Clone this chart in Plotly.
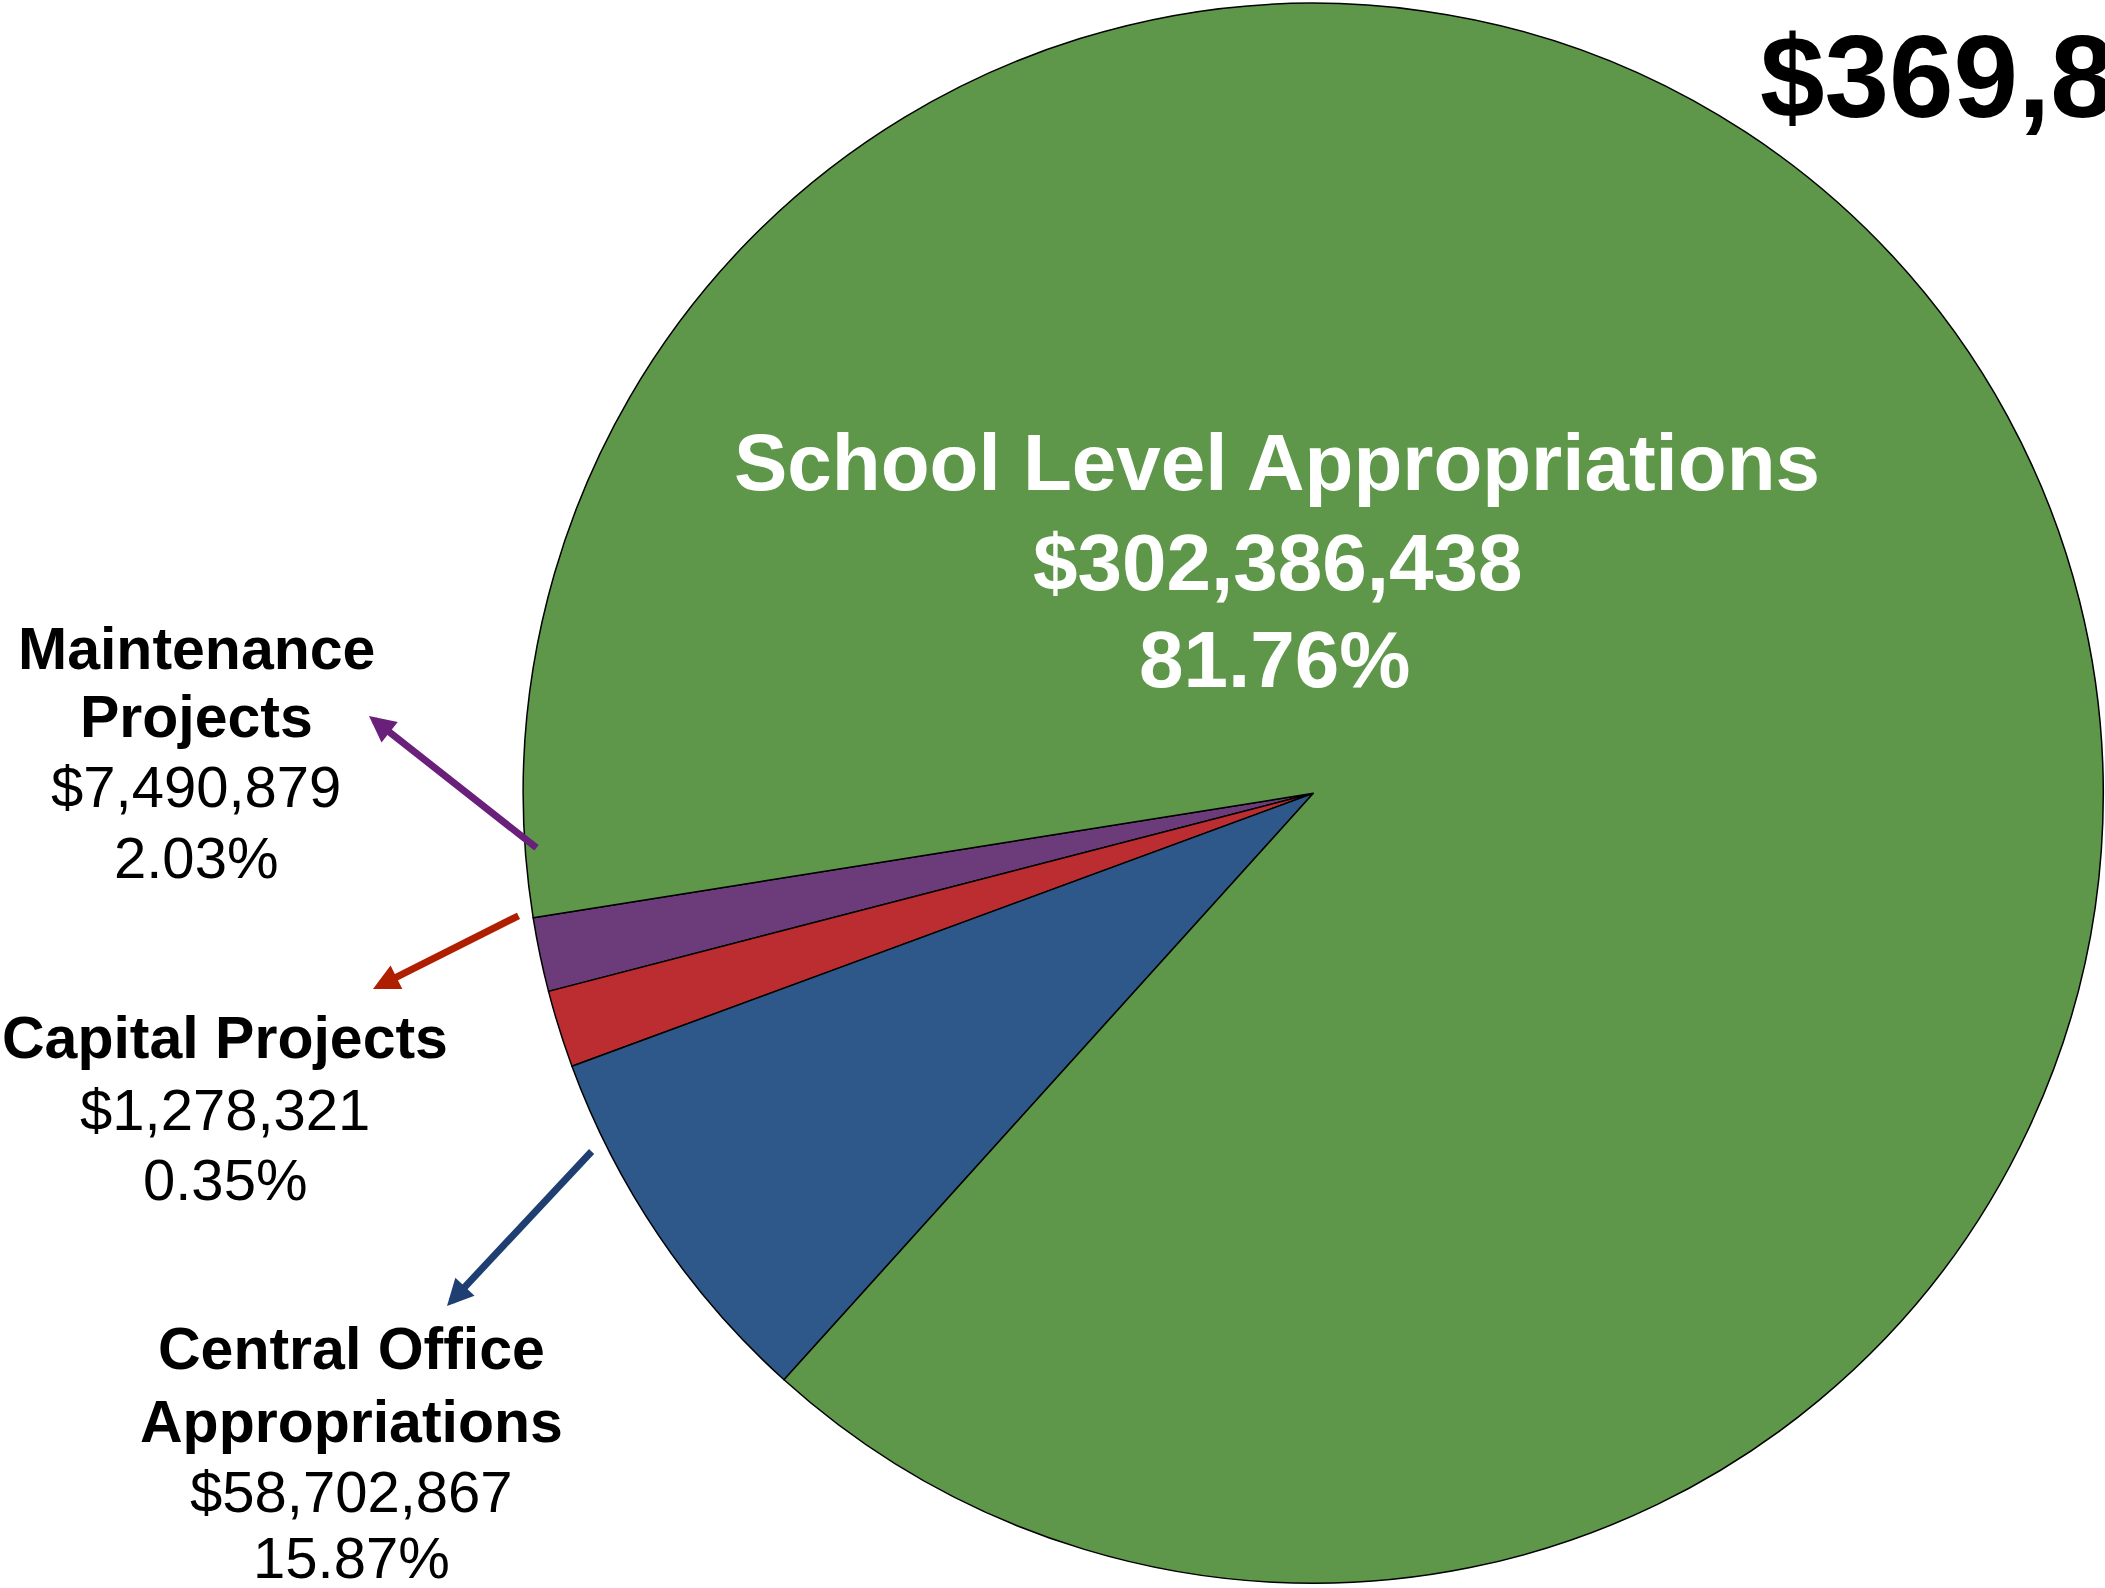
import plotly.graph_objects as go

# ---- data ----
categories = ["Maintenance Projects", "Capital Projects",
              "Central Office Appropriations", "School Level Appropriations"]
amounts = [7490879, 1278321, 58702867, 302386438]          # printed labels
percents = [2.03, 0.35, 15.87, 81.76]                        # printed labels
# slice sizes as actually drawn in the picture (share of the circle, %)
drawn_share = [1.514, 1.581, 7.700, 89.205]
slice_colors = ["#6C3C7A", "#BB2D30", "#2E588A", "#5E974A"]
arrow_colors = ["#6A1F7A", "#B01E00", "#1F3F72"]

W, H = 2105, 1588
total = sum(amounts)

fig = go.Figure()
fig.add_trace(go.Pie(
    labels=categories, values=drawn_share, sort=False,
    direction="counterclockwise", rotation=255.48,
    marker=dict(colors=slice_colors, line=dict(color="#000000", width=1.5)),
    textinfo="none", hoverinfo="label", showlegend=False,
    domain=dict(x=[0.2486, 0.9992], y=[0.00294, 0.99794]),
))

FONT = "Liberation Sans, Arial, Helvetica, sans-serif"
ann = []

def line(text, cx, baseline, size, bold, color="#000000", xanchor="center"):
    y_mid = baseline - 0.3465 * size
    ann.append(dict(
        text=f"<b>{text}</b>" if bold else text,
        x=cx / W, y=1 - y_mid / H, xref="paper", yref="paper",
        xanchor=xanchor, yanchor="middle", showarrow=False,
        font=dict(family=FONT, size=size, color=color)))

def money(v):
    return "${:,}".format(v)

# layout of label blocks (pixel positions)
blocks = [
    dict(name=["Maintenance", "Projects"], cx=196, base=[669, 737, 807, 878]),
    dict(name=["Capital Projects"], cx=225, base=[1058, 1130, 1200]),
    dict(name=["Central Office", "Appropriations"], cx=351, base=[1369, 1442, 1512, 1578]),
]
for i, b in enumerate(blocks):
    lines = b["name"]
    for j, t in enumerate(lines):
        line(t, b["cx"], b["base"][j], 59, True)
    k = len(lines)
    line(money(amounts[i]), b["cx"], b["base"][k], 58, False)
    line(f"{percents[i]:.2f}%", b["cx"], b["base"][k + 1], 58, False)

# label inside the big slice
line("School Level Appropriations", 1277, 490, 80, True, "#FFFFFF")
line(money(amounts[3]), 1277, 590, 80, True, "#FFFFFF")
line(f"{percents[3]:.2f}%", 1274, 687, 80, True, "#FFFFFF")

# total (cut off at the right edge in the original)
line(money(total), 1758, 117, 116, True, "#000000", xanchor="left")

# arrows: tip and tail in pixels
arrows = [((369, 716), (538, 849)), ((373, 989), (520, 915)), ((447, 1306), (593, 1150))]
for (tip, tail), c in zip(arrows, arrow_colors):
    ann.append(dict(
        text="", x=tip[0] / W, y=1 - tip[1] / H, xref="paper", yref="paper",
        ax=tail[0] - tip[0], ay=tail[1] - tip[1], axref="pixel", ayref="pixel",
        showarrow=True, arrowhead=2, arrowsize=0.75, arrowwidth=7, arrowcolor=c,
        standoff=0, startstandoff=0))

fig.update_layout(
    width=W, height=H, margin=dict(l=0, r=0, t=0, b=0),
    paper_bgcolor="#FFFFFF", plot_bgcolor="#FFFFFF",
    annotations=ann, showlegend=False,
)

fig.write_html("out.html", config={"displayModeBar": False},
               post_script="document.body.style.margin='0';document.body.style.overflow='hidden';")
